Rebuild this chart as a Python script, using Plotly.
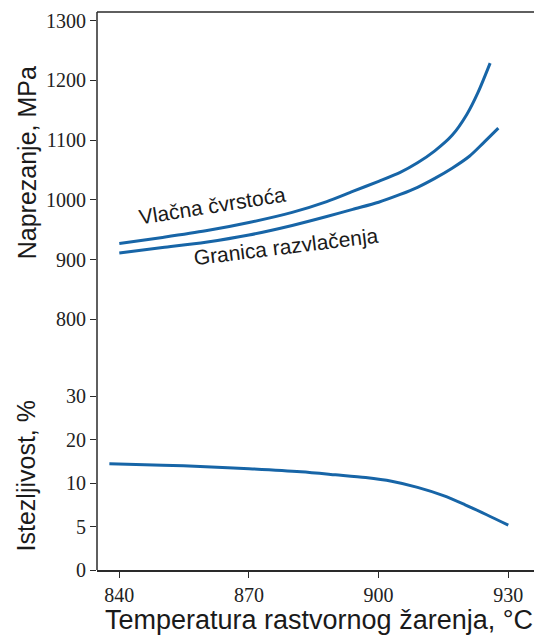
import numpy as np
import plotly.graph_objects as go

# --- data ---
temp_tensile = [840, 850, 860, 870, 880, 888, 894, 900, 905, 909, 913, 917, 920.4, 923, 925.8]
tensile_mpa = [927, 937, 948, 962, 979, 997, 1014, 1031, 1046, 1062, 1082, 1108, 1143, 1180, 1229]

temp_yield = [840, 850, 860, 870, 880, 888, 894, 900, 905, 909, 913, 917, 921, 924.2, 927.7]
yield_mpa = [911, 920, 929, 941, 957, 972, 984, 996, 1009, 1021, 1036, 1053, 1073, 1095, 1120]

temp_elong = [837.7, 850, 860, 870, 882, 890, 897, 903, 909, 915, 920, 925, 930]
elong_pct = [14.4, 14.1, 13.75, 13.3, 12.6, 11.9, 11.25, 10.4, 9.5, 8.55, 7.5, 6.35, 5.15]

x_ticks = [840, 870, 900, 930]
stress_ticks = [800, 900, 1000, 1100, 1200, 1300]
elong_ticks = [0, 5, 10, 20, 30]   # equally spaced on the original axis
elong_tick_pos = [0, 1, 2, 3, 4]

label_tensile = "Vlačna čvrstoća"
label_yield = "Granica razvlačenja"
title_x = "Temperatura rastvornog žarenja, °C"
title_stress = "Naprezanje, MPa"
title_elong = "Istezljivost, %"


def elong_scale(v):
    return np.interp(v, elong_ticks, elong_tick_pos)


LINE = "#1765a7"
AX = "#2a2a2a"
SERIF = "Liberation Serif"
SANS = "Liberation Sans"

fig = go.Figure()
fig.add_trace(go.Scatter(x=temp_tensile, y=tensile_mpa, mode="lines", yaxis="y2",
                         line=dict(color=LINE, width=3, shape="spline", smoothing=0.8),
                         showlegend=False))
fig.add_trace(go.Scatter(x=temp_yield, y=yield_mpa, mode="lines", yaxis="y2",
                         line=dict(color=LINE, width=3, shape="spline", smoothing=0.8),
                         showlegend=False))
fig.add_trace(go.Scatter(x=temp_elong, y=elong_scale(elong_pct), mode="lines", yaxis="y",
                         line=dict(color=LINE, width=3, shape="spline", smoothing=0.8),
                         showlegend=False))

tickfont = dict(family=SERIF, size=20, color="#222")

fig.update_layout(
    width=534, height=636,
    margin=dict(l=97, r=0, t=12, b=66, autoexpand=False),
    paper_bgcolor="white", plot_bgcolor="white",
    xaxis=dict(range=[834.84, 935.95], tickvals=x_ticks, ticks="outside", ticklen=6,
               tickcolor=AX, tickwidth=1.3, showline=True, linecolor=AX, linewidth=1.5,
               showgrid=False, zeroline=False, tickfont=tickfont, anchor="y",
               automargin=False),
    yaxis=dict(domain=[0, 0.3315], range=[0, 4.253], tickvals=elong_tick_pos,
               ticktext=[str(t) for t in elong_ticks], ticks="outside", ticklen=6,
               tickcolor=AX, tickwidth=1.3, showline=False, showgrid=False,
               zeroline=False, tickfont=tickfont, automargin=False),
    yaxis2=dict(domain=[0.4211, 1], range=[773.5, 1314.6], tickvals=stress_ticks,
                ticks="outside", ticklen=6, tickcolor=AX, tickwidth=1.3, showline=False,
                showgrid=False, zeroline=False, tickfont=tickfont, anchor="x",
                automargin=False),
    shapes=[
        dict(type="line", xref="paper", yref="paper", x0=0, x1=0, y0=0, y1=1,
             line=dict(color=AX, width=1.5)),
        dict(type="line", xref="paper", yref="paper", x0=0, x1=1, y0=1, y1=1,
             line=dict(color=AX, width=1.5)),
    ],
    annotations=[
        dict(text=label_tensile, x=861.6, y=991, xref="x", yref="y2", showarrow=False,
             xanchor="center", yanchor="middle",
             textangle=-9, font=dict(family=SANS, size=21, color="#1a1a1a")),
        dict(text=label_yield, x=878.5, y=922.6, xref="x", yref="y2", showarrow=False,
             xanchor="center", yanchor="middle",
             textangle=-7, font=dict(family=SANS, size=21, color="#1a1a1a")),
        dict(text=title_stress, x=-0.160, y=0.729, xref="paper", yref="paper",
             xanchor="center", yanchor="middle",
             showarrow=False, textangle=-90, font=dict(family=SANS, size=25, color="#1a1a1a")),
        dict(text=title_elong, x=-0.162, y=0.168, xref="paper", yref="paper",
             xanchor="center", yanchor="middle",
             showarrow=False, textangle=-90, font=dict(family=SANS, size=25, color="#1a1a1a")),
        dict(text=title_x, x=0.508, y=-0.059, xref="paper", yref="paper",
             xanchor="center", yanchor="top",
             showarrow=False, font=dict(family=SANS, size=27, color="#1a1a1a")),
    ],
)

fig.write_html("out.html", config={"displayModeBar": False},
               post_script="document.body.style.margin='0';")
